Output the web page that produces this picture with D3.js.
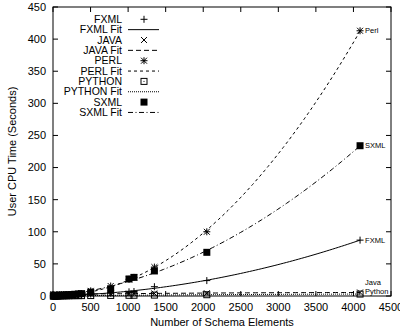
<!DOCTYPE html>
<html>
<head>
<meta charset="utf-8">
<script src="https://cdn.jsdelivr.net/npm/d3@7"></script>
<style>
  body { margin: 0; background: #fff; }
  text { font-family: "Liberation Sans", Arial, sans-serif; fill: #000; }
</style>
</head>
<body>
<svg id="chart" width="400" height="330"></svg>
<script>
// schema sizes (number of elements)
var elements = [5, 15, 30, 45, 60, 80, 100, 125, 150, 180, 210, 250, 290, 340, 380, 502, 768, 1012, 1078, 1350, 2048, 4088];

// user cpu time in seconds
var fxml   = [0.05, 0.1, 0.2, 0.3, 0.4, 0.5, 0.6, 0.7, 0.8, 1.0, 1.2, 1.4, 1.6, 1.9, 2.2, 3, 4.5, 6.5, 7, 14.5, 24, 87];
var java   = [2.5, 2.5, 2.5, 2.6, 2.6, 2.6, 2.7, 2.7, 2.7, 2.8, 2.8, 2.9, 2.9, 3.0, 3.0, 3.2, 3.5, 3.8, 3.9, 4.0, 4.3, 5.5];
var perl   = [0.05, 0.1, 0.2, 0.3, 0.4, 0.5, 0.7, 0.9, 1.1, 1.4, 1.7, 2.0, 2.5, 3.0, 3.6, 8, 15.5, 26, 29, 45, 100, 413];
var python = [0.1, 0.1, 0.1, 0.2, 0.2, 0.2, 0.3, 0.3, 0.3, 0.4, 0.4, 0.5, 0.5, 0.6, 0.6, 0.7, 0.9, 1.1, 1.2, 1.4, 2.0, 3.0];
var sxml   = [0.1, 0.2, 0.3, 0.4, 0.5, 0.7, 0.9, 1.1, 1.3, 1.6, 1.9, 2.3, 2.7, 3.2, 3.7, 6, 11, 26.5, 29, 39, 68, 234];

var xTicks = [0, 500, 1000, 1500, 2000, 2500, 3000, 3500, 4000, 4500];
var yTicks = [0, 50, 100, 150, 200, 250, 300, 350, 400, 450];

var series = [
    {name: 'FXML',   values: fxml,   marker: 'plus',   dash: null,        label: 'FXML',   dy: 0},
    {name: 'JAVA',   values: java,   marker: 'cross',  dash: '5,3',       label: 'Java',   dy: -10},
    {name: 'PERL',   values: perl,   marker: 'star',   dash: '3,3',       label: 'Perl',   dy: 0},
    {name: 'PYTHON', values: python, marker: 'box',    dash: '1,1',       label: 'Python', dy: -3},
    {name: 'SXML',   values: sxml,   marker: 'square', dash: '5,2.5,1,2.5', label: 'SXML', dy: 0}
];

var margin = {top: 7, right: 9, bottom: 34, left: 53},
    width = 400 - margin.left - margin.right,
    height = 330 - margin.top - margin.bottom;

var svg = d3.select('#chart');
var g = svg.append('g').attr('transform', 'translate(' + margin.left + ',' + margin.top + ')');

var x = d3.scaleLinear().domain([0, 4500]).range([0, width]);
var y = d3.scaleLinear().domain([0, 450]).range([height, 0]);

// least squares quadratic fit, like the gnuplot "fit" lines
function quadFit(xs, ys) {
    var s = [0, 0, 0, 0, 0], t = [0, 0, 0];
    xs.forEach(function(xv, i) {
        for (var k = 0; k < 5; k++) s[k] += Math.pow(xv, k);
        for (var j = 0; j < 3; j++) t[j] += ys[i] * Math.pow(xv, j);
    });
    var m = [[s[0], s[1], s[2], t[0]], [s[1], s[2], s[3], t[1]], [s[2], s[3], s[4], t[2]]];
    for (var c = 0; c < 3; c++) {
        for (var r = c + 1; r < 3; r++) {
            var f = m[r][c] / m[c][c];
            for (var q = c; q < 4; q++) m[r][q] -= f * m[c][q];
        }
    }
    var b = [0, 0, 0];
    for (var r2 = 2; r2 >= 0; r2--) {
        var v = m[r2][3];
        for (var q2 = r2 + 1; q2 < 3; q2++) v -= m[r2][q2] * b[q2];
        b[r2] = v / m[r2][r2];
    }
    return function(xv) { return b[0] + b[1] * xv + b[2] * xv * xv; };
}

function drawMarker(sel, type, cx, cy) {
    var s = 3.5;
    var p = sel.append('g').attr('transform', 'translate(' + cx + ',' + cy + ')');
    if (type === 'plus' || type === 'star') {
        p.append('path').attr('d', 'M' + (-s) + ',0H' + s + 'M0,' + (-s) + 'V' + s)
            .attr('stroke', '#000').attr('fill', 'none');
    }
    if (type === 'cross' || type === 'star') {
        var c = s * 0.85;
        p.append('path').attr('d', 'M' + (-c) + ',' + (-c) + 'L' + c + ',' + c + 'M' + (-c) + ',' + c + 'L' + c + ',' + (-c))
            .attr('stroke', '#000').attr('fill', 'none');
    }
    if (type === 'box') {
        p.append('rect').attr('x', -3).attr('y', -3).attr('width', 6).attr('height', 6)
            .attr('stroke', '#000').attr('fill', 'none');
        p.append('rect').attr('x', -0.5).attr('y', -0.5).attr('width', 1).attr('height', 1).attr('fill', '#000');
    }
    if (type === 'square') {
        p.append('rect').attr('x', -3.5).attr('y', -3.5).attr('width', 7).attr('height', 7).attr('fill', '#000');
    }
}

g.append('clipPath').attr('id', 'plotclip')
    .append('rect').attr('width', width).attr('height', height);

var plot = g.append('g').attr('clip-path', 'url(#plotclip)');

var line = d3.line().x(function(d) { return x(d[0]); }).y(function(d) { return y(d[1]); });
var xMax = d3.max(elements);

series.forEach(function(s) {
    var f = quadFit(elements, s.values);
    var pts = d3.range(0, 101).map(function(i) { var xv = xMax * i / 100; return [xv, f(xv)]; });
    plot.append('path').datum(pts)
        .attr('d', line)
        .attr('fill', 'none')
        .attr('stroke', '#000')
        .attr('stroke-width', 1)
        .attr('stroke-dasharray', s.dash);
});

series.forEach(function(s) {
    var mg = g.append('g');
    elements.forEach(function(xv, i) {
        drawMarker(mg, s.marker, x(xv), y(s.values[i]));
    });
    var last = s.values.length - 1;
    g.append('text')
        .attr('x', x(elements[last]) + 5)
        .attr('y', y(s.values[last]) + s.dy)
        .attr('dy', '0.35em')
        .style('font-size', '7.5px')
        .text(s.label);
});

// frame and inward ticks
g.append('rect').attr('width', width).attr('height', height)
    .attr('fill', 'none').attr('stroke', '#000');

var tickLen = 5;
xTicks.forEach(function(t) {
    g.append('path').attr('d', 'M' + x(t) + ',' + height + 'v' + (-tickLen) + 'M' + x(t) + ',0v' + tickLen)
        .attr('stroke', '#000');
    g.append('text').attr('x', x(t)).attr('y', height + 15)
        .attr('text-anchor', 'middle').style('font-size', '11px').text(t);
});
yTicks.forEach(function(t) {
    g.append('path').attr('d', 'M0,' + y(t) + 'h' + tickLen + 'M' + width + ',' + y(t) + 'h' + (-tickLen))
        .attr('stroke', '#000');
    g.append('text').attr('x', -7).attr('y', y(t)).attr('dy', '0.35em')
        .attr('text-anchor', 'end').style('font-size', '11px').text(t);
});

g.append('text').attr('x', width / 2).attr('y', height + 30)
    .attr('text-anchor', 'middle').style('font-size', '11px').text('Number of Schema Elements');
g.append('text').attr('transform', 'translate(' + (-41) + ',' + (height / 2) + ') rotate(-90)')
    .attr('dy', '0.35em').attr('text-anchor', 'middle').style('font-size', '11px')
    .text('User CPU Time (Seconds)');

// legend
var legend = g.append('g').attr('transform', 'translate(' + (122 - margin.left) + ',' + (19.3 - margin.top) + ')');
var rowH = 10.35;
series.forEach(function(s, i) {
    var r1 = i * 2 * rowH, r2 = r1 + rowH;
    legend.append('text').attr('x', 0).attr('y', r1).attr('dy', '0.35em')
        .attr('text-anchor', 'end').style('font-size', '10.5px').text(s.name);
    drawMarker(legend, s.marker, 22, r1);
    legend.append('text').attr('x', 0).attr('y', r2).attr('dy', '0.35em')
        .attr('text-anchor', 'end').style('font-size', '10.5px').text(s.name + ' Fit');
    legend.append('path').attr('d', 'M6,' + r2 + 'H37')
        .attr('stroke', '#000').attr('stroke-dasharray', s.dash);
});
</script>
</body>
</html>
